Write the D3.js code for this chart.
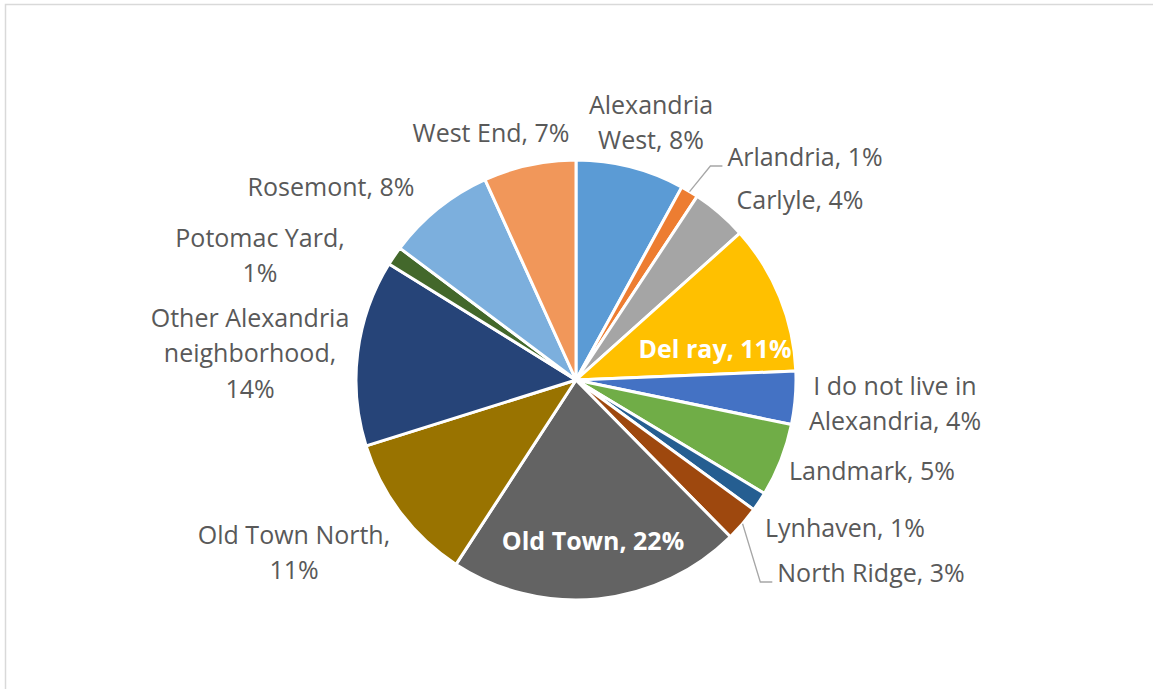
<!DOCTYPE html>
<html>
<head>
<meta charset="utf-8">
<script src="https://cdn.jsdelivr.net/npm/d3@7"></script>
<style>
  body { margin: 0; background: #fff; }
  text { font-family: "Open Sans", sans-serif; }
</style>
</head>
<body>
<script>
var width = 1153,
    height = 689;

// neighbourhoods, clockwise from 12 o'clock
var names = ["Alexandria West", "Arlandria", "Carlyle", "Del ray", "I do not live in Alexandria",
  "Landmark", "Lynhaven", "North Ridge", "Old Town", "Old Town North",
  "Other Alexandria neighborhood", "Potomac Yard", "Rosemont", "West End"];
var shares = [8.0, 1.3, 4.1, 11.0, 3.9, 5.4, 1.4, 2.6, 21.6, 11.0, 13.7, 1.4, 8.0, 6.8];
var labelLines = [
  ["Alexandria", "West, 8%"], ["Arlandria, 1%"], ["Carlyle, 4%"], ["Del ray, 11%"],
  ["I do not live in", "Alexandria, 4%"], ["Landmark, 5%"], ["Lynhaven, 1%"], ["North Ridge, 3%"],
  ["Old Town, 22%"], ["Old Town North,", "11%"], ["Other Alexandria", "neighborhood,", "14%"],
  ["Potomac Yard,", "1%"], ["Rosemont, 8%"], ["West End, 7%"]];

var colors = ["#5B9BD5", "#ED7D31", "#A5A5A5", "#FFC000", "#4472C4", "#70AD47", "#255E91",
  "#9E480E", "#636363", "#997300", "#264478", "#43682B", "#7CAFDD", "#F1975A"];

// label layout: centre of first line relative to pie centre, inside flag, leader flag
var labelAt = [[75, -275], [229, -223], [224, -180], [139, -31], [319, 6], [296, 91], [269, 148],
  [295, 193], [17, 161], [-282, 155], [-326, -62], [-316, -142], [-245, -193], [-85, -247]];
var inside = [false, false, false, true, false, false, false, false, true, false, false, false, false, false];
var leader = [false, true, false, false, false, false, false, true, false, false, false, false, false, false];

var cx = 576, cy = 380, radius = 220, lineH = 35.5;

var svg = d3.select("body").append("svg")
    .attr("width", width)
    .attr("height", height);

svg.append("rect")
    .attr("x", 5.5).attr("y", 4.5)
    .attr("width", width + 10).attr("height", height + 10)
    .attr("fill", "none")
    .attr("stroke", "#D9D9D9")
    .attr("stroke-width", 1.5);

var data = names.map(function (n, i) { return { name: n, value: shares[i], i: i }; });

var pie = d3.pie().sort(null).value(function (d) { return d.value; });
var arc = d3.arc().innerRadius(0).outerRadius(radius);

var g = svg.append("g").attr("transform", "translate(" + cx + "," + cy + ")");
var arcs = pie(data);

g.selectAll("path")
  .data(arcs)
  .enter().append("path")
    .attr("d", arc)
    .attr("fill", function (d) { return colors[d.data.i]; })
    .attr("stroke", "#fff")
    .attr("stroke-width", 3)
    .attr("stroke-linejoin", "round");

var labels = g.selectAll("text.lab")
  .data(arcs)
  .enter().append("text")
    .attr("class", "lab")
    .attr("text-anchor", "middle")
    .attr("font-size", 25)
    .attr("font-weight", function (d) { return inside[d.data.i] ? 700 : 400; })
    .attr("fill", function (d) { return inside[d.data.i] ? "#fff" : "#595959"; });

labels.each(function (d) {
  var p = labelAt[d.data.i];
  d3.select(this).selectAll("tspan")
    .data(labelLines[d.data.i])
    .enter().append("tspan")
      .attr("x", p[0])
      .attr("y", function (t, k) { return p[1] + k * lineH; })
      .attr("dy", "0.35em")
      .text(function (t) { return t; });
});

// leader lines for the thin slices
labels.filter(function (d) { return leader[d.data.i]; }).each(function (d) {
  var b = this.getBBox();
  var a = (d.startAngle + d.endAngle) / 2;
  var sx = Math.sin(a) * radius, sy = -Math.cos(a) * radius;
  var ly = labelAt[d.data.i][1] + 9;
  var ex = b.x - 5;
  g.append("polyline")
    .attr("points", [[sx, sy], [ex - 12, ly], [ex, ly]].map(function (q) { return q.join(","); }).join(" "))
    .attr("fill", "none")
    .attr("stroke", "#A6A6A6")
    .attr("stroke-width", 1.3);
});
</script>
</body>
</html>
